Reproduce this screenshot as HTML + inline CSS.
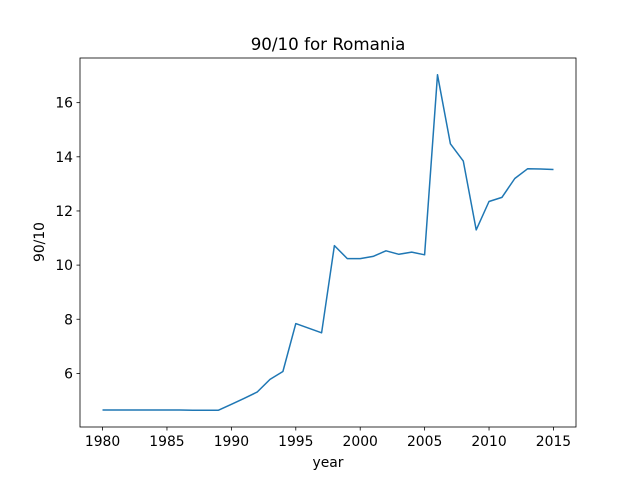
<!DOCTYPE html>
<html><head><meta charset="utf-8"><style>
body{margin:0;background:#fff;font-family:"Liberation Sans","DejaVu Sans",sans-serif}
svg text{font-family:"DejaVu Sans","Liberation Sans",sans-serif;font-size:13.9px;fill:#000}
</style></head><body>
<svg id="chart" width="640" height="480" xmlns="http://www.w3.org/2000/svg">
<rect width="640" height="480" fill="#fff"/>
<text x="328" y="50" text-anchor="middle" style="font-size:16.7px">90/10 for Romania</text>
<g id="xt"></g>
<g id="yt"></g>
<path id="line" fill="none" stroke="#1f77b4" stroke-width="1.5" stroke-linejoin="round"/>
<rect x="80" y="58" width="496" height="369" fill="none" stroke="#000" stroke-width="0.8"/>
<text x="328" y="467" text-anchor="middle">year</text>
<text x="0" y="0" text-anchor="middle" transform="translate(44,242) rotate(-90)">90/10</text>
</svg>
<script>
const years=[1980,1981,1982,1983,1984,1985,1986,1987,1988,1989,1990,1991,1992,1993,1994,1995,1996,1997,1998,1999,2000,2001,2002,2003,2004,2005,2006,2007,2008,2009,2010,2011,2012,2013,2014,2015];
const values=[4.65,4.65,4.65,4.65,4.65,4.65,4.65,4.64,4.64,4.64,4.86,5.08,5.31,5.78,6.07,7.84,7.67,7.5,10.72,10.24,10.24,10.32,10.53,10.4,10.48,10.38,17.03,14.48,13.84,11.3,12.35,12.5,13.2,13.56,13.55,13.53];
const xTicks=[1980,1985,1990,1995,2000,2005,2010,2015];
const yTicks=[6,8,10,12,14,16];
const L=80,R=576,T=58,B=427;
const x0=Math.min(...years),x1=Math.max(...years),xm=(x1-x0)*0.05;
const y0=Math.min(...values),y1=Math.max(...values),ym=(y1-y0)*0.05;
const sx=v=>L+(v-(x0-xm))/((x1+xm)-(x0-xm))*(R-L);
const sy=v=>B-(v-(y0-ym))/((y1+ym)-(y0-ym))*(B-T);
const NS="http://www.w3.org/2000/svg";
const xt=document.getElementById('xt'),yt=document.getElementById('yt');
xTicks.forEach(t=>{const l=document.createElementNS(NS,'line');


l.setAttribute('x1',sx(t));l.setAttribute('x2',sx(t));l.setAttribute('y1',B);l.setAttribute('y2',B+3.5);l.setAttribute('stroke','#000');l.setAttribute('stroke-width','0.8');xt.appendChild(l);
const s=document.createElementNS(NS,'text');


s.setAttribute('x',sx(t));s.setAttribute('y',B+19);s.setAttribute('text-anchor','middle');s.textContent=t;xt.appendChild(s);});
yTicks.forEach(t=>{const l=document.createElementNS(NS,'line');


l.setAttribute('x1',L-3.5);l.setAttribute('x2',L);l.setAttribute('y1',sy(t));l.setAttribute('y2',sy(t));l.setAttribute('stroke','#000');l.setAttribute('stroke-width','0.8');yt.appendChild(l);
const s=document.createElementNS(NS,'text');


s.setAttribute('x',L-7);s.setAttribute('y',sy(t)+5);s.setAttribute('text-anchor','end');s.textContent=t;yt.appendChild(s);});
document.getElementById('line').setAttribute('d',years.map((y,i)=>(i?'L':'M')+sx(y).toFixed(1)+','+sy(values[i]).toFixed(1)).join(''));
</script>
</body></html>
